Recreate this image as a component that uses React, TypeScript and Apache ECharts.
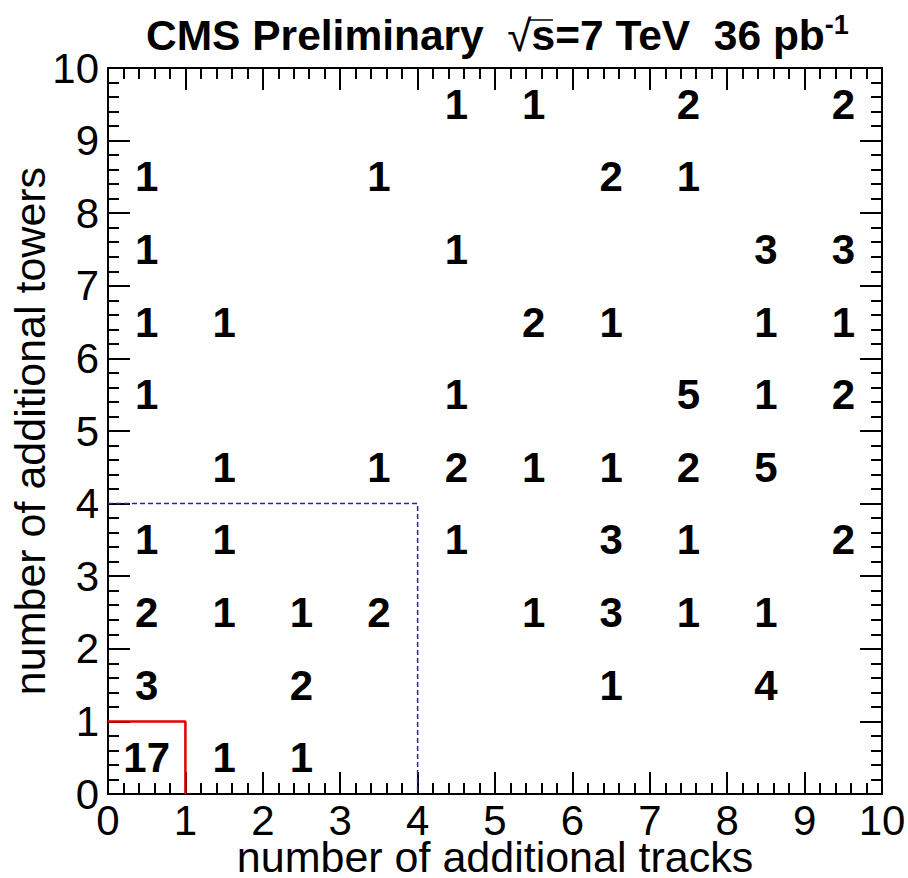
import React, { useEffect, useRef } from "react";
import * as echarts from "echarts";

// counts[y][x]: number of events per (tracks, towers) bin; 0 = empty bin
const xTickLabels = ["0", "1", "2", "3", "4", "5", "6", "7", "8", "9", "10"];
const countsRow0 = [17, 1, 1, 0, 0, 0, 0, 0, 0, 0];
const countsRow1 = [3, 0, 2, 0, 0, 0, 1, 0, 4, 0];
const countsRow2 = [2, 1, 1, 2, 0, 1, 3, 1, 1, 0];
const countsRow3 = [1, 1, 0, 0, 1, 0, 3, 1, 0, 2];
const countsRow4 = [0, 1, 0, 1, 2, 1, 1, 2, 5, 0];
const countsRow5 = [1, 0, 0, 0, 1, 0, 0, 5, 1, 2];
const countsRow6 = [1, 1, 0, 0, 0, 2, 1, 0, 1, 1];
const countsRow7 = [1, 0, 0, 0, 1, 0, 0, 0, 3, 3];
const countsRow8 = [1, 0, 0, 1, 0, 0, 2, 1, 0, 0];
const countsRow9 = [0, 0, 0, 0, 1, 1, 0, 2, 0, 2];
const countRows = [
  countsRow0, countsRow1, countsRow2, countsRow3, countsRow4,
  countsRow5, countsRow6, countsRow7, countsRow8, countsRow9,
];
// signal region (red) and control region (blue dashed) boundaries, in axis units
const signalRegion = [[0, 1], [1, 1], [1, 0]];
const controlRegion = [[0, 4], [4, 4], [4, 0]];

const FONT = "'Liberation Sans', Arial, Helvetica, sans-serif";

export default function App() {
  const ref = useRef<HTMLDivElement>(null);
  useEffect(() => {
    document.body.style.margin = "0";
    const chart = echarts.init(ref.current!, null, { renderer: "svg" });
    const cells: number[][] = [];
    countRows.forEach((row, y) =>
      row.forEach((c, x) => {
        if (c > 0) cells.push([x + 0.5, y + 0.5, c]);
      })
    );
    const axisLine = { show: true, onZero: false, lineStyle: { color: "#000", width: 2 } };
    const tick = { show: true, inside: true, length: 22, lineStyle: { color: "#000", width: 2 } };
    const minor = { show: true, splitNumber: 5, length: 11, lineStyle: { color: "#000", width: 2 } };
    const labelStyle = { fontSize: 42, color: "#000", fontFamily: FONT, lineHeight: 34 };
    chart.setOption({
      animation: false,
      backgroundColor: "#fff",
      title: {
        left: 146,
        top: 14,
        padding: 0,
        text: "{b|CMS Preliminary  }{r|√}{b|s=7 TeV  36 pb}{sup|-1}",
        textStyle: {
          rich: {
            b: { fontSize: 42.5, fontWeight: "bold", color: "#000", fontFamily: FONT, lineHeight: 42 },
            r: { fontSize: 44, fontWeight: "normal", color: "#000", fontFamily: FONT, lineHeight: 42 },
            sup: {
              fontSize: 27, fontWeight: "bold", color: "#000", fontFamily: FONT,
              lineHeight: 27, padding: [0, 0, 20, 0],
            },
          },
        },
      },
      graphic: [
        {
          type: "line",
          shape: { x1: 529, y1: 20, x2: 553, y2: 20 },
          style: { stroke: "#000", lineWidth: 1.5 },
        },
      ],
      grid: {
        left: 108, right: 26, top: 68, bottom: 84,
        containLabel: false, outerBoundsMode: "none",
      },
      xAxis: [
        {
          type: "value", min: 0, max: 10, interval: 1, position: "bottom",
          axisLine, axisTick: tick, minorTick: minor,
          splitLine: { show: false }, minorSplitLine: { show: false },
          axisLabel: {
            ...labelStyle, margin: 9,
            formatter: (v: number) => xTickLabels[Math.round(v)],
          },
          name: "number of additional tracks",
          nameLocation: "middle", nameGap: 47, nameMoveOverlap: false,
          nameTextStyle: { fontSize: 43, color: "#000", fontFamily: FONT, lineHeight: 32 },
        },
        {
          type: "value", min: 0, max: 10, interval: 1, position: "top",
          axisLine, axisTick: tick, minorTick: minor,
          splitLine: { show: false }, minorSplitLine: { show: false },
          axisLabel: { show: false },
        },
      ],
      yAxis: [
        {
          type: "value", min: 0, max: 10, interval: 1, position: "left",
          axisLine, axisTick: tick, minorTick: minor,
          splitLine: { show: false }, minorSplitLine: { show: false },
          axisLabel: { ...labelStyle, margin: 9 },
          name: "number of additional towers",
          nameLocation: "middle", nameGap: 57, nameMoveOverlap: false,
          nameTextStyle: { fontSize: 43, color: "#000", fontFamily: FONT },
        },
        {
          type: "value", min: 0, max: 10, interval: 1, position: "right",
          axisLine, axisTick: tick, minorTick: minor,
          splitLine: { show: false }, minorSplitLine: { show: false },
          axisLabel: { show: false },
        },
      ],
      series: [
        {
          type: "line",
          data: controlRegion,
          showSymbol: false,
          symbol: "none",
          lineStyle: { color: "#2424a8", width: 1.5, type: [5, 3] },
          z: 3,
        },
        {
          type: "line",
          data: signalRegion,
          showSymbol: false,
          symbol: "none",
          lineStyle: { color: "#e00000", width: 2.5 },
          z: 3,
        },
        {
          type: "scatter",
          data: cells,
          symbolSize: 0,
          itemStyle: { color: "#000" },
          label: {
            show: true,
            position: "inside",
            formatter: (p: any) => String(p.value[2]),
            fontSize: 42,
            fontWeight: "bold",
            color: "#000",
            opacity: 1,
            textBorderWidth: 0,
            fontFamily: FONT,
          },
          z: 4,
        },
      ],
    });
    return () => chart.dispose();
  }, []);
  return <div ref={ref} style={{ width: 908, height: 878 }} />;
}
